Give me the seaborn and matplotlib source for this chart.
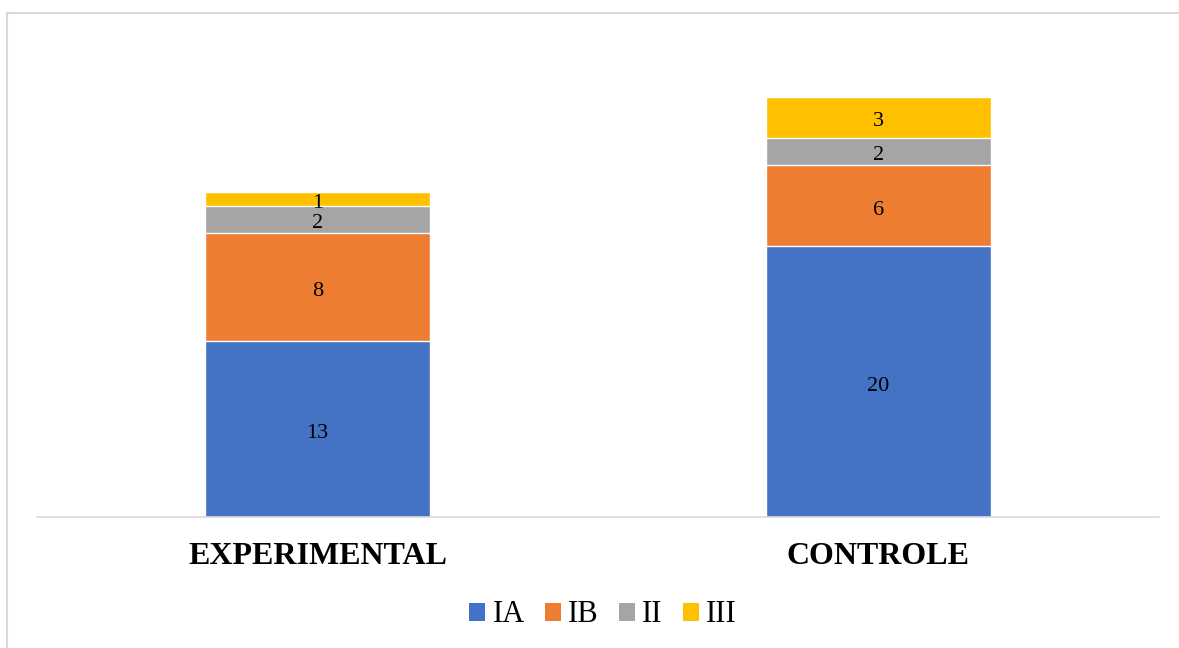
import matplotlib
matplotlib.use("Agg")
import matplotlib.pyplot as plt
from matplotlib.patches import Patch
from matplotlib.lines import Line2D
from matplotlib.transforms import offset_copy
import numpy as np
import pandas as pd
import seaborn as sns

groups = ["EXPERIMENTAL", "CONTROLE"]
stages = ["IA", "IB", "II", "III"]
ia = [13, 20]
ib = [8, 6]
ii = [2, 2]
iii = [1, 3]
colors = ["#4472C4", "#ED7D31", "#A5A5A5", "#FFC000"]

sns.set_theme(style="white")
plt.rcParams["font.family"] = ["Liberation Serif", "DejaVu Serif"]
plt.rcParams["text.color"] = "black"
plt.rcParams["xtick.color"] = "black"
plt.rcParams["xtick.labelcolor"] = "black"

values = np.array([ia, ib, ii, iii], dtype=float)
cumulative = np.cumsum(values, axis=0)

fig = plt.figure(figsize=(11.79, 6.48), dpi=100)
W, H = 1179, 648
ax = fig.add_axes([37 / W, 1 - 517 / H, (1159 - 37) / W, (517 - 43) / H])

# stacked bars: draw cumulative totals from the top segment down
for k in range(len(stages) - 1, -1, -1):
    df = pd.DataFrame({"group": groups, "value": cumulative[k]})
    sns.barplot(data=df, x="group", y="value", color=colors[k], width=0.4,
                saturation=1, edgecolor="white", linewidth=1, ax=ax)

label_tf = offset_copy(ax.transData, fig=fig, x=0, y=-2, units="dots")
for k in range(len(stages)):
    for j in range(len(groups)):
        base = cumulative[k][j] - values[k][j]
        ax.text(j, base + values[k][j] / 2, f"{int(values[k][j])}", transform=label_tf,
                ha="center", va="center_baseline", fontsize=16, color="black")

ax.set_xlim(-0.5, 1.5)
ax.set_ylim(0, 35)
ax.set_xlabel("")
ax.set_ylabel("")
ax.set_yticks([])
for side in ["left", "right", "top"]:
    ax.spines[side].set_visible(False)
ax.spines["bottom"].set_color("#d9d9d9")
ax.spines["bottom"].set_linewidth(1.2)
ax.tick_params(axis="x", length=0, pad=18)
for lbl in ax.get_xticklabels():
    lbl.set_fontsize(23)
    lbl.set_fontweight("bold")
    lbl.set_color("black")

handles = [Patch(facecolor=c, edgecolor="none", label=s) for c, s in zip(colors, stages)]
leg = fig.legend(handles=handles, loc="center", bbox_to_anchor=(603 / W, 1 - 615 / H),
                 ncol=4, frameon=False, fontsize=22, handlelength=0.52, handleheight=0.52,
                 handletextpad=0.25, columnspacing=0.65)
for t in leg.get_texts():
    t.set_color("black")

# outer chart frame
fig.add_artist(Line2D([7.5 / W, 7.5 / W], [0, 1 - 13 / H], color="#d9d9d9", lw=1.5,
                      transform=fig.transFigure))
fig.add_artist(Line2D([7.5 / W, 1], [1 - 13 / H, 1 - 13 / H], color="#d9d9d9", lw=1.5,
                      transform=fig.transFigure))

fig.savefig("out.png", dpi=100, facecolor="white")
